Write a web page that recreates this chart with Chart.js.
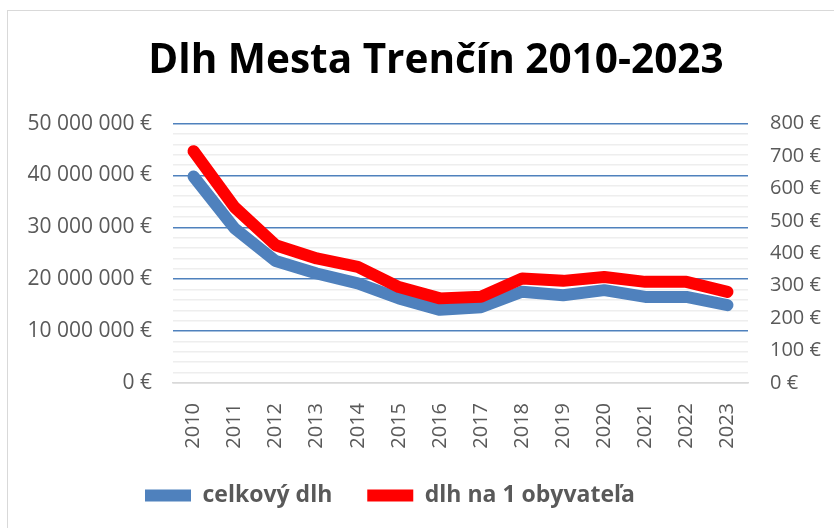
<!DOCTYPE html>
<html>
<head>
<meta charset="utf-8">
<script src="https://cdn.jsdelivr.net/npm/chart.js@4"></script>
<style>
  html, body { margin: 0; padding: 0; background: #fff; overflow: hidden; width: 834px; height: 528px; }
  /* the chart is wider than the window, only its left and top frame edges are in view */
  #frame { position: absolute; left: 7px; top: 10px; width: 900px; height: 600px; border: 1.5px solid #d9d9d9; }
  #chart { position: absolute; left: 8px; top: 11px; }
</style>
</head>
<body>
<div id="frame"></div>
<canvas id="chart" width="856" height="517"></canvas>
<script>
// Dlh mesta Trenčín
const years = ['2010', '2011', '2012', '2013', '2014', '2015', '2016', '2017', '2018', '2019', '2020', '2021', '2022', '2023']
const totalDebt = [39800000, 29800000, 23500000, 21100000, 19200000, 16300000, 14100000, 14600000, 17600000, 16900000, 17900000, 16600000, 16600000, 15000000]
const debtPerCitizen = [715, 542, 425, 384, 358, 296, 261, 266, 322, 315, 327, 312, 312, 281]
const leftTicks = [0, 10000000, 20000000, 30000000, 40000000, 50000000]
const rightTicks = [0, 100, 200, 300, 400, 500, 600, 700, 800]

const textGray = '#595959'
const blue = '#4f81bd'
const red = '#ff0000'

/**
 * Formats a number with spaces between thousands and a euro sign, e.g. 10 000 000 €
 */
function euro(value) {
    return String(value).replace(/\B(?=(\d{3})+(?!\d))/g, ' ') + ' €'
}

// The legend in the original sits left of the centre; put its left edge there after the layout
const legendPlacement = {
    id: 'legendPlacement',
    afterLayout(chart) {
        chart.legend.left = 102
    }
}

const data = {
    labels: years,
    datasets: [{
        label: 'celkový dlh',
        data: totalDebt,
        yAxisID: 'yLeft',
        borderColor: blue,
        backgroundColor: blue,
        borderWidth: 12,
        borderCapStyle: 'round',
        borderJoinStyle: 'round',
        pointRadius: 0,
        order: 1
    }, {
        label: 'dlh na 1 obyvateľa',
        data: debtPerCitizen,
        yAxisID: 'yRight',
        borderColor: red,
        backgroundColor: red,
        borderWidth: 12,
        borderCapStyle: 'round',
        borderJoinStyle: 'round',
        pointRadius: 0,
        order: 0 // red line is drawn over the blue one
    }]
}

const config = {
    type: 'line',
    data,
    plugins: [legendPlacement],
    options: {
        responsive: false,
        animation: false,
        layout: {
            padding: { left: 0, right: 0, top: 0, bottom: 11 }
        },
        scales: {
            x: {
                offset: true,
                grid: { display: false },
                border: { display: true, color: '#d9d9d9', width: 1.5 },
                ticks: {
                    color: textGray,
                    font: { family: 'Open Sans', size: 20 },
                    minRotation: 90,
                    maxRotation: 90,
                    padding: 12
                },
                afterFit: (scale) => { scale.height = 66 }
            },
            yLeft: {
                position: 'left',
                min: 0,
                max: 50000000,
                border: { display: false },
                // major lines every 10 mil. in blue, minor every 2 mil. in light gray
                grid: {
                    color: (ctx) => {
                        const v = ctx.tick.value
                        if (v === 0) return '#d9d9d9'
                        return leftTicks.includes(v) ? blue : '#eeeeee'
                    },
                    lineWidth: 1.5,
                    drawTicks: false
                },
                ticks: {
                    stepSize: 2000000,
                    color: textGray,
                    font: { family: 'Open Sans', size: 21 },
                    padding: 21,
                    autoSkip: false,
                    callback: function (value) {
                        return leftTicks.includes(value) ? euro(value) : ''
                    }
                },
                afterFit: (scale) => { scale.width = 165 }
            },
            yRight: {
                position: 'right',
                min: 0,
                max: 800,
                border: { display: false },
                grid: { display: false, drawTicks: false },
                afterBuildTicks: (scale) => {
                    scale.ticks = rightTicks.map(v => ({ value: v }))
                },
                ticks: {
                    color: textGray,
                    font: { family: 'Open Sans', size: 20 },
                    padding: 22,
                    callback: (value) => euro(value)
                },
                afterFit: (scale) => { scale.width = 116 }
            }
        },
        plugins: {
            title: {
                display: true,
                text: 'Dlh Mesta Trenčín 2010-2023',
                color: '#000000',
                font: { family: 'Open Sans', size: 40.5, weight: 'bold' },
                padding: { top: 26, bottom: 38 }
            },
            legend: {
                position: 'bottom',
                align: 'start',
                labels: {
                    usePointStyle: true,
                    pointStyle: 'line',
                    pointStyleWidth: 46,
                    color: textGray,
                    font: { family: 'Open Sans', size: 23, weight: 'bold' },
                    padding: 35,
                    sort: (a, b) => a.datasetIndex - b.datasetIndex
                }
            },
            tooltip: { enabled: false }
        }
    }
}

const chart = new Chart(document.getElementById('chart'), config)
</script>
</body>
</html>
